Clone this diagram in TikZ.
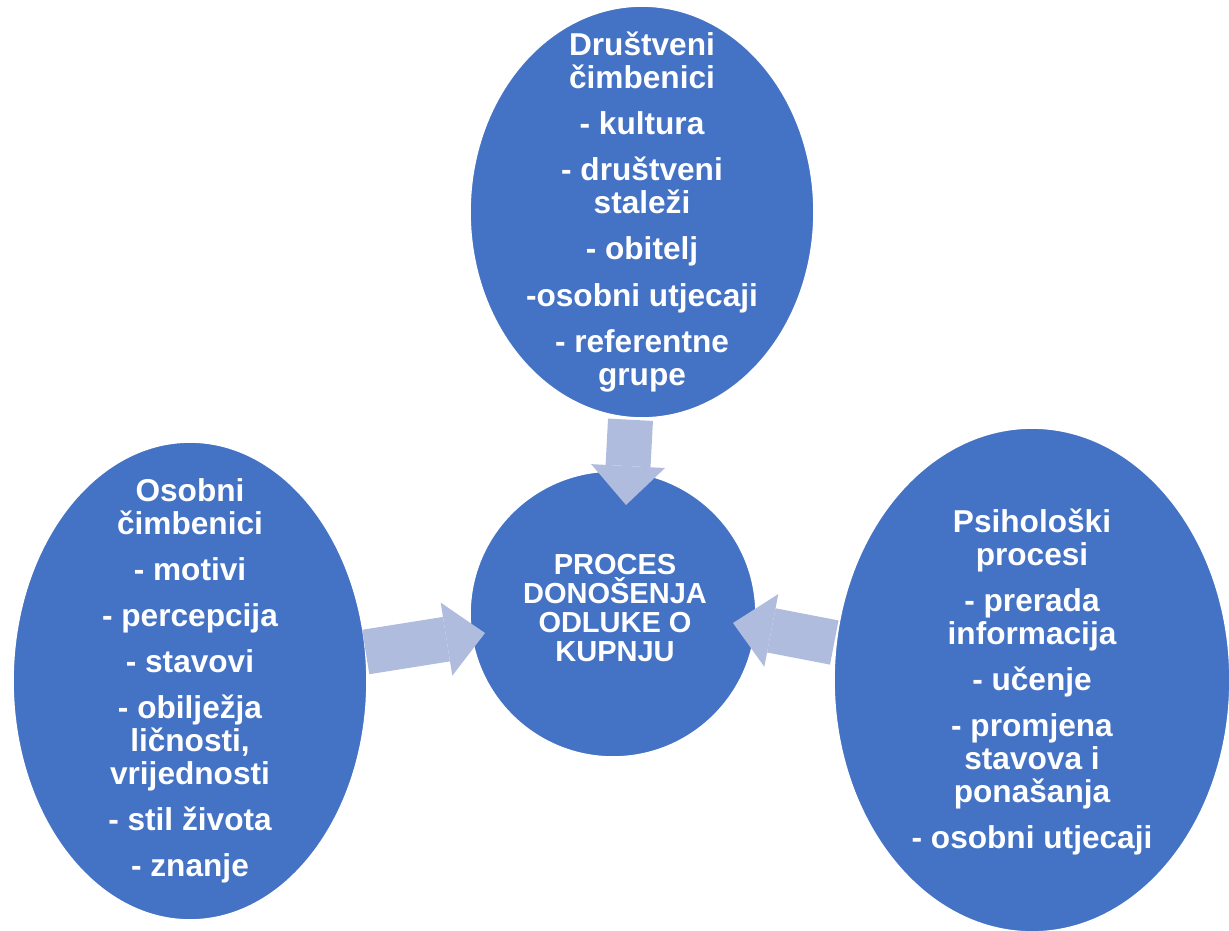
\documentclass[tikz,border=0pt]{standalone}
\usepackage{fontspec}
\setmainfont{Liberation Sans}
\usetikzlibrary{positioning, arrows.meta, shapes.geometric, calc}
\definecolor{ovalBlue}{RGB}{68,114,196}
\definecolor{arrowLight}{RGB}{176,188,222}
\def\pgap{\\[0.26cm]}

\begin{document}
\begin{tikzpicture}[
    x=0.02cm, y=-0.02cm,
    factorOval/.style  ={ellipse, draw=white, line width=0.9pt, fill=ovalBlue, inner sep=0pt},
    factorText/.style  ={align=center, text=white, inner sep=0pt,
                         font=\bfseries\fontsize{18}{18.8}\selectfont},
    centerText/.style  ={align=center, text=white, inner sep=0pt,
                         font=\bfseries\fontsize{16.5}{16.5}\selectfont},
    blockArrow/.style  ={arrowLight, line width=0.9cm,
                         -{Triangle[length=0.78cm, width=1.48cm, line width=0pt]}},
]
\clip (0,0) rectangle (1229,930);

% =====================================================
% Ovals
% =====================================================
\node[factorOval, minimum width=6.88cm, minimum height=8.24cm] (social)   at (642,212) {};
\node[factorOval, minimum width=7.08cm, minimum height=9.56cm] (personal) at (190,681) {};
\node[factorOval, minimum width=7.92cm, minimum height=10.08cm] (psych)   at (1032,680) {};
\node[factorOval, circle, minimum size=5.72cm]                 (decision) at (613,614) {};

% =====================================================
% Texts
% =====================================================
\node[factorText] (socialTxt) at (social)
    {Društveni\\čimbenici\pgap - kultura\pgap - društveni\\staleži\pgap - obitelj\pgap
     -osobni utjecaji\pgap - referentne\\grupe};
\node[factorText] (personalTxt) at (personal)
    {Osobni\\čimbenici\pgap - motivi\pgap - percepcija\pgap - stavovi\pgap
     - obilježja\\ličnosti,\\vrijednosti\pgap - stil života\pgap - znanje};
\node[factorText] (psychTxt) at ([yshift=-0.04cm]psych)
    {Psihološki\\procesi\pgap - prerada\\informacija\pgap - učenje\pgap
     - promjena\\stavova i\\ponašanja\pgap - osobni utjecaji};
\node[centerText] (decisionTxt) at ([shift={(2,-6)}]decision)
    {PROCES\\DONOŠENJA\\ODLUKE O\\KUPNJU};

% =====================================================
% Block arrows
% =====================================================
\draw[blockArrow] ([shift={(-11.5,1)}]social.south)  -- ([shift={(13,-109)}]decision.center);
\draw[blockArrow] ([shift={(-2,-29)}]personal.east)  -- ([shift={(-128,19)}]decision.center);
\draw[blockArrow] ([shift={(1,-37.5)}]psych.west)    -- ([shift={(120,9)}]decision.center);

\end{tikzpicture}
\end{document}
